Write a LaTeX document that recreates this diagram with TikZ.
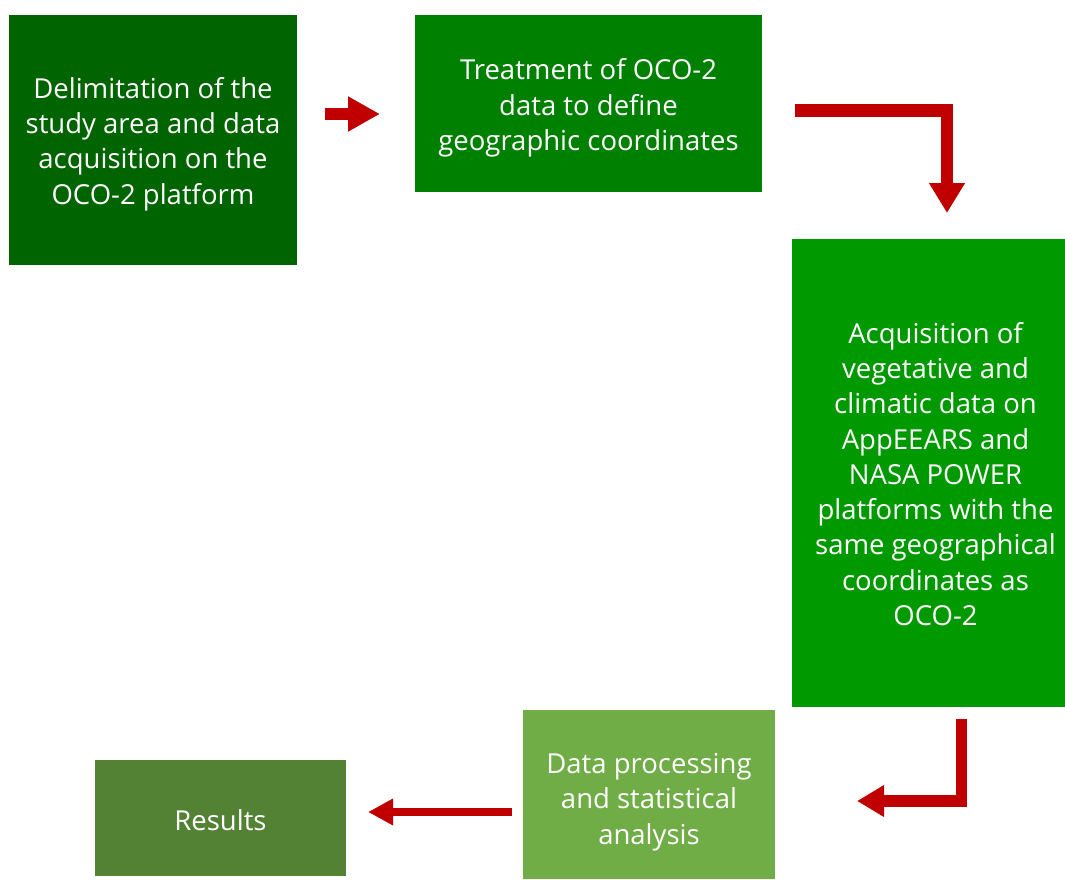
\documentclass[tikz,border=0pt]{standalone}
\usepackage{fontspec}
\setmainfont{Open Sans}
\usetikzlibrary{arrows.meta}
\definecolor{cA}{RGB}{0,100,0}
\definecolor{cB}{RGB}{0,128,0}
\definecolor{cC}{RGB}{0,153,0}
\definecolor{cD}{RGB}{112,173,71}
\definecolor{cE}{RGB}{84,130,53}
\definecolor{cR}{RGB}{192,0,0}
\tikzset{
  box/.style={fill=#1, draw=none, text=white, align=center, inner sep=0pt,
    font=\fontsize{27.5}{35.3}\selectfont},
  conn/.style={draw=cR, line cap=butt, line join=miter}
}
\begin{document}
\begin{tikzpicture}[x=1pt,y=-1pt]
\useasboundingbox (0,0) rectangle (1065,879);
\path[box=cA] (9,15) rectangle (297,265);
\node[box=cA, fill=none] (b1) at (153,144) {Delimitation of the\\study area and data\\acquisition on the\\OCO-2 platform};
\path[box=cB] (415,15) rectangle (762,192);
\node[box=cB, fill=none] (b2) at (588.5,108) {Treatment of OCO-2\\data to define\\geographic coordinates};
\path[box=cC] (792,239) rectangle (1065,707);
\node[box=cC, fill=none] (b3) at (935.5,474) {Acquisition of\\vegetative and\\climatic data on\\AppEEARS and\\NASA POWER\\platforms with the\\same geographical\\coordinates as\\OCO-2};
\path[box=cD] (523,710) rectangle (775,879);
\node[box=cD, fill=none] (b4) at (649,802) {Data processing\\and statistical\\analysis};
\path[box=cE] (95,760) rectangle (346,876);
\node[box=cE, fill=none] (b5) at (220.5,820) {Results};

\coordinate (a1s) at (325,114);
\coordinate (a1e) at (380,114);
\draw[conn, line width=11.5, -{Triangle[length=32,width=33]}] (a1s) -- (a1e);

\coordinate (a2s) at (795,110.5);
\coordinate (a2c) at (947,110.5);
\coordinate (a2e) at (947,213);
\draw[conn, line width=12.5, -{Triangle[length=30,width=34]}] (a2s) -- (a2c) -- (a2e);

\coordinate (a3s) at (961.5,719);
\coordinate (a3c) at (961.5,801);
\coordinate (a3e) at (857,801);
\draw[conn, line width=11.5, -{Triangle[length=27,width=30]}] (a3s) -- (a3c) -- (a3e);

\coordinate (a4s) at (512,812);
\coordinate (a4e) at (368,812);
\draw[conn, line width=8.5, -{Triangle[length=25,width=25]}] (a4s) -- (a4e);
\end{tikzpicture}
\end{document}
